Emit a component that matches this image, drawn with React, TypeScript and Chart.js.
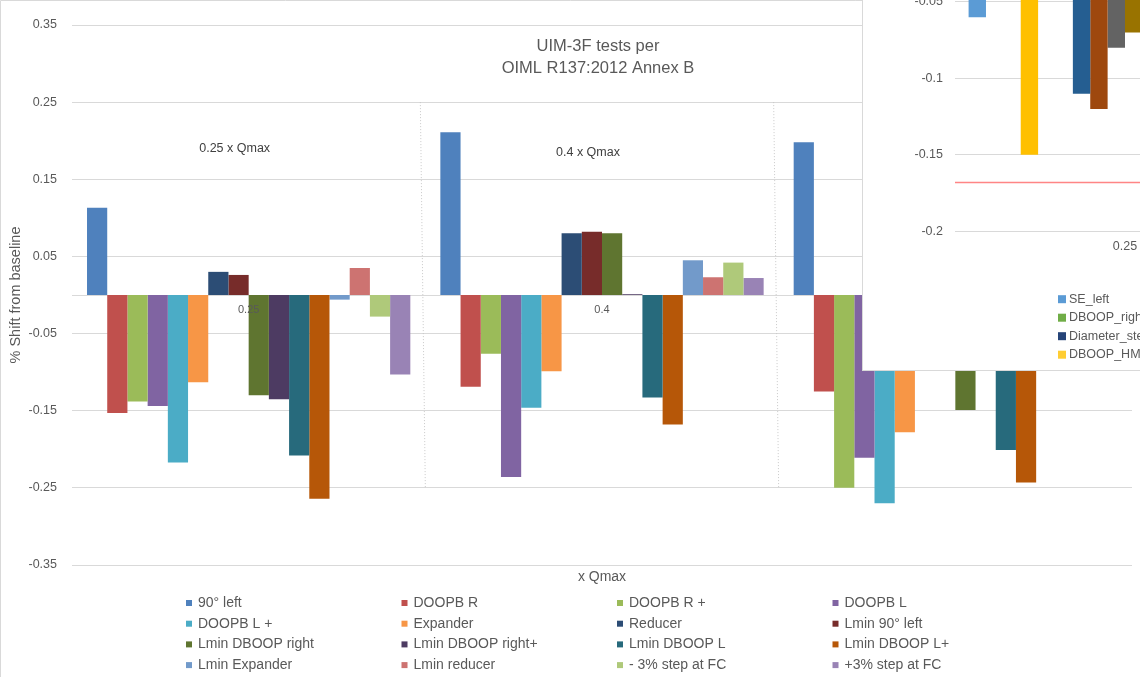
import { useEffect, useRef } from 'react';
import { Chart, registerables } from 'chart.js';

Chart.register(...registerables);
Chart.defaults.font.family = "'Liberation Sans', Arial, sans-serif";

// ---- Main chart: flow-disturbance tests, shift from baseline per flow rate ----
const categories = ['0.25', '0.4', '1'];
const groupNotes = ['0.25 x Qmax', '0.4 x Qmax'];
const groupNoteLevel = [0.19, 0.185];
const chartTitle = ['UIM-3F tests per', 'OIML R137:2012 Annex B'];
const yTicks = { min: -0.35, max: 0.35, step: 0.1 };

const seriesNames = [
  '90° left', 'DOOPB R', 'DOOPB R +', 'DOOPB L',
  'DOOPB L +', 'Expander', 'Reducer', 'Lmin 90° left',
  'Lmin DBOOP right', 'Lmin DBOOP right+', 'Lmin DBOOP L', 'Lmin DBOOP L+',
  'Lmin Expander', 'Lmin reducer', '- 3% step at FC', '+3% step at FC',
];

const left90 = [0.113, 0.211, 0.198];
const doopbR = [-0.153, -0.119, -0.125];
const doopbRPlus = [-0.138, -0.076, -0.25];
const doopbL = [-0.144, -0.236, -0.211];
const doopbLPlus = [-0.217, -0.146, -0.27];
const expander = [-0.113, -0.099, -0.178];
const reducer = [0.03, 0.08, null];
const lminLeft90 = [0.026, 0.082, null];
const lminDboopRight = [-0.13, 0.08, -0.149];
const lminDboopRightPlus = [-0.135, 0.001, null];
const lminDboopL = [-0.208, -0.133, -0.201];
const lminDboopLPlus = [-0.264, -0.168, -0.243];
const lminExpander = [-0.006, 0.045, null];
const lminReducer = [0.035, 0.023, null];
const stepMinus3 = [-0.028, 0.042, null];
const stepPlus3 = [-0.103, 0.022, null];

const seriesValues = [
  left90, doopbR, doopbRPlus, doopbL,
  doopbLPlus, expander, reducer, lminLeft90,
  lminDboopRight, lminDboopRightPlus, lminDboopL, lminDboopLPlus,
  lminExpander, lminReducer, stepMinus3, stepPlus3,
];

const seriesColors = [
  '#4f81bd', '#c0504d', '#9bbb59', '#8064a2',
  '#4bacc6', '#f79646', '#2c4d75', '#772c2a',
  '#5f7530', '#4d3b62', '#276a7c', '#b65708',
  '#729aca', '#cd7371', '#afc97a', '#9983b5',
];

// ---- Small overlaid chart ----
const insetCategories = ['0.25'];
const insetNames: (string | null)[] = [
  'SE_left', null, null, null, null,
  'DBOOP_right', null, null, null, null,
  'Diameter_step', null, null, null, null,
  'DBOOP_HMP', null, null,
];
const insetValues: (number | null)[] = [
  -0.06, null, null, -0.15, null,
  null, -0.11, -0.12, -0.08, -0.07,
  null, null, null, null, null,
  null, null, null,
];
const insetColors = [
  '#5b9bd5', '#ed7d31', '#a5a5a5', '#ffc000', '#4472c4',
  '#70ad47', '#255e91', '#9e480e', '#636363', '#997300',
  '#264478', '#43682b', '#7cafdd', '#f1975a', '#b7b7b7',
  '#ffcd33', '#698ed0', '#8cc168',
];
const insetLimit = -0.168;

const TEXT = '#595959';
const GRID = '#d9d9d9';
const fmt = (v: number | string) => parseFloat(Number(v).toFixed(2)).toString();

const mainDecor = {
  id: 'mainDecor',
  beforeDatasetsDraw(chart: any) {
    const { ctx, chartArea, scales } = chart;
    const x = scales.x;
    const y = scales.y;
    ctx.save();
    // category axis at zero
    const y0 = Math.round(y.getPixelForValue(0)) + 0.5;
    ctx.strokeStyle = GRID;
    ctx.lineWidth = 1;
    ctx.beginPath();
    ctx.moveTo(chartArea.left, y0);
    ctx.lineTo(chartArea.right, y0);
    ctx.stroke();
    // dotted separators between flow-rate groups
    ctx.strokeStyle = '#c8c8c8';
    ctx.setLineDash([1, 2]);
    for (let i = 0; i < categories.length - 1; i++) {
      const bx = (x.getPixelForValue(i) + x.getPixelForValue(i + 1)) / 2;
      ctx.beginPath();
      ctx.moveTo(bx - 5, y.getPixelForValue(0.25));
      ctx.lineTo(bx, y.getPixelForValue(-0.25));
      ctx.stroke();
    }
    ctx.restore();
  },
  afterDraw(chart: any) {
    const { ctx, chartArea, scales } = chart;
    const x = scales.x;
    const y = scales.y;
    ctx.save();
    // border of the chart frame
    ctx.strokeStyle = GRID;
    ctx.lineWidth = 1;
    ctx.beginPath();
    ctx.moveTo(0.5, chart.height);
    ctx.lineTo(0.5, 0.5);
    ctx.lineTo(chart.width, 0.5);
    ctx.stroke();

    // category labels next to the zero axis
    const y0 = y.getPixelForValue(0);
    ctx.fillStyle = TEXT;
    ctx.font = "11px 'Liberation Sans', Arial, sans-serif";
    ctx.textAlign = 'center';
    ctx.textBaseline = 'middle';
    categories.forEach((c, i) => ctx.fillText(c, x.getPixelForValue(i), y0 + 15));

    // title inside plot
    ctx.font = "16.5px 'Liberation Sans', Arial, sans-serif";
    const cx = (chartArea.left + chartArea.right) / 2 - 4;
    chartTitle.forEach((t, i) => ctx.fillText(t, cx, chartArea.top + 21 + i * 22));

    // group notes
    ctx.fillStyle = '#404040';
    ctx.font = "12.5px 'Liberation Sans', Arial, sans-serif";
    groupNotes.forEach((t, i) => {
      ctx.fillText(t, x.getPixelForValue(i) - 14, y.getPixelForValue(groupNoteLevel[i]));
    });

    // legend: four columns
    ctx.font = "14px 'Liberation Sans', Arial, sans-serif";
    ctx.textAlign = 'left';
    seriesNames.forEach((name, i) => {
      const col = i % 4;
      const row = Math.floor(i / 4);
      const lx = 186 + col * 215.5;
      const ly = 603 + row * 20.7;
      ctx.fillStyle = seriesColors[i];
      ctx.fillRect(lx, ly - 3, 6, 6);
      ctx.fillStyle = TEXT;
      ctx.fillText(name, lx + 12, ly);
    });
    ctx.restore();
  },
};

const insetDecor = {
  id: 'insetDecor',
  beforeDatasetsDraw(chart: any) {
    const { ctx, chartArea, scales } = chart;
    const yl = Math.round(scales.y.getPixelForValue(insetLimit)) + 0.5;
    ctx.save();
    ctx.strokeStyle = '#ff8585';
    ctx.lineWidth = 1.5;
    ctx.beginPath();
    ctx.moveTo(chartArea.left, yl);
    ctx.lineTo(chartArea.right, yl);
    ctx.stroke();
    ctx.restore();
  },
  afterDraw(chart: any) {
    const { ctx, chartArea } = chart;
    ctx.save();
    ctx.font = "12.5px 'Liberation Sans', Arial, sans-serif";
    ctx.textAlign = 'left';
    ctx.textBaseline = 'middle';
    insetNames.forEach((name, i) => {
      if (!name) return;
      const col = i % 5;
      const row = Math.floor(i / 5);
      const lx = 195 + col * 150;
      const ly = chartArea.bottom + 68 + row * 18.5;
      ctx.fillStyle = insetColors[i];
      ctx.fillRect(lx, ly - 4, 8, 8);
      ctx.fillStyle = TEXT;
      ctx.fillText(name, lx + 11, ly);
    });
    ctx.restore();
  },
};

export default function App() {
  const mainRef = useRef<HTMLCanvasElement>(null);
  const insetRef = useRef<HTMLCanvasElement>(null);

  useEffect(() => {
    const main = new Chart(mainRef.current as HTMLCanvasElement, {
      type: 'bar',
      data: {
        labels: categories,
        datasets: seriesNames.map((name, i) => ({
          label: name,
          data: seriesValues[i] as any,
          backgroundColor: seriesColors[i],
          borderWidth: 0,
          categoryPercentage: 0.915,
          barPercentage: 1,
        })),
      },
      options: {
        responsive: false,
        animation: false,
        events: [],
        layout: { padding: { top: 25, right: 8, bottom: 91.6, left: 0 } },
        plugins: { legend: { display: false }, tooltip: { enabled: false } },
        scales: {
          x: {
            ticks: { display: false },
            grid: { display: false },
            border: { display: false },
            title: {
              display: true,
              text: 'x Qmax',
              color: TEXT,
              font: { size: 14 },
              padding: 0,
            },
            afterFit: (s: any) => { s.height = 20.4; },
          },
          y: {
            min: yTicks.min,
            max: yTicks.max,
            ticks: {
              stepSize: yTicks.step,
              padding: 15,
              color: TEXT,
              font: { size: 12.5 },
              callback: (v: any) => fmt(v),
            },
            grid: { color: GRID, drawTicks: false },
            border: { display: false },
            title: {
              display: true,
              text: '% Shift from baseline',
              color: TEXT,
              font: { size: 14.5 },
              padding: { top: 7, bottom: 0 },
            },
            afterFit: (s: any) => { s.width = 72; },
          },
        },
      },
      plugins: [mainDecor],
    } as any);

    const inset = new Chart(insetRef.current as HTMLCanvasElement, {
      type: 'bar',
      data: {
        labels: insetCategories,
        datasets: insetValues.map((v, i) => ({
          label: insetNames[i] ?? undefined,
          data: [v],
          backgroundColor: insetColors[i],
          borderWidth: 0,
          categoryPercentage: 0.92,
          barPercentage: 1,
        })),
      },
      options: {
        responsive: false,
        animation: false,
        events: [],
        layout: { padding: { top: 1.3, right: 0, bottom: 0, left: 0 } },
        plugins: { legend: { display: false }, tooltip: { enabled: false } },
        scales: {
          x: {
            ticks: { padding: 0, color: TEXT, font: { size: 12.5 } },
            grid: { display: false },
            border: { display: false },
            afterFit: (s: any) => { s.height = 144.8; },
          },
          y: {
            min: -0.2,
            max: 0,
            ticks: {
              stepSize: 0.05,
              padding: 12,
              color: TEXT,
              font: { size: 12.5 },
              callback: (v: any) => fmt(v),
            },
            grid: { color: GRID, drawTicks: false },
            border: { display: false },
            afterFit: (s: any) => { s.width = 92; },
          },
        },
      },
      plugins: [insetDecor],
    } as any);

    return () => {
      main.destroy();
      inset.destroy();
    };
  }, []);

  return (
    <div
      style={{
        position: 'fixed', left: 0, top: 0, width: 1140, height: 677,
        background: '#ffffff', overflow: 'hidden',
      }}
    >
      <canvas
        ref={mainRef}
        width={1140}
        height={677}
        style={{ position: 'absolute', left: 0, top: 0 }}
      />
      <div
        style={{
          position: 'absolute', left: 862, top: 0, width: 278, height: 371,
          background: '#ffffff', borderLeft: '1px solid #d9d9d9',
          borderBottom: '1px solid #d9d9d9', boxSizing: 'border-box', overflow: 'hidden',
        }}
      >
        <canvas
          ref={insetRef}
          width={432}
          height={470}
          style={{ position: 'absolute', left: 0, top: -94 }}
        />
      </div>
    </div>
  );
}
